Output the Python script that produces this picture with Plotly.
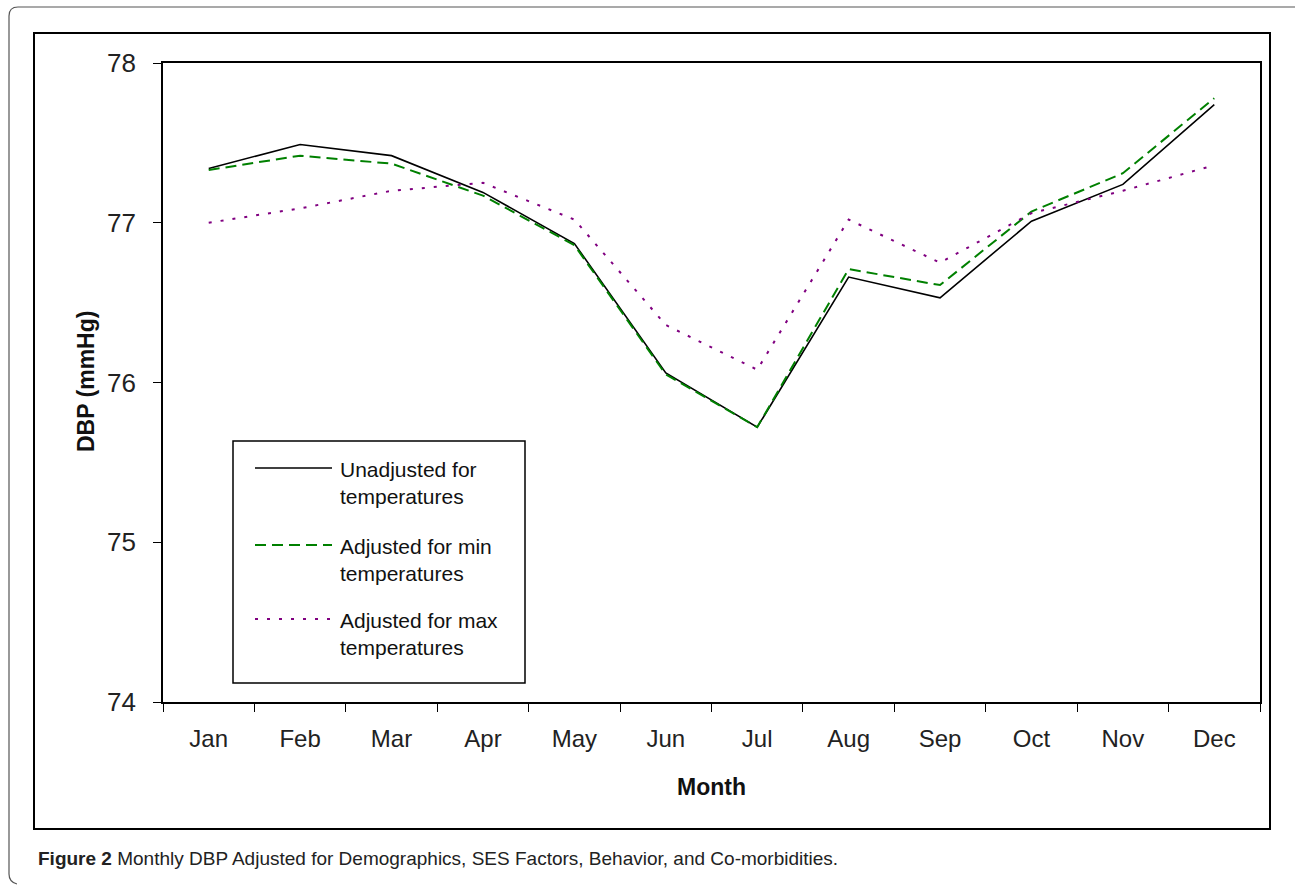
import plotly.graph_objects as go

# ---------------- data ----------------
months = ["Jan", "Feb", "Mar", "Apr", "May", "Jun", "Jul", "Aug", "Sep", "Oct", "Nov", "Dec"]
unadjusted = [77.34, 77.49, 77.42, 77.19, 76.87, 76.06, 75.72, 76.66, 76.53, 77.01, 77.24, 77.74]
adj_min = [77.33, 77.42, 77.37, 77.17, 76.86, 76.05, 75.72, 76.71, 76.61, 77.07, 77.31, 77.78]
adj_max = [77.00, 77.09, 77.20, 77.25, 77.02, 76.36, 76.08, 77.02, 76.75, 77.06, 77.20, 77.36]
y_ticks = [74, 75, 76, 77, 78]
series_names = ["Unadjusted for<br>temperatures",
                "Adjusted for min<br>temperatures",
                "Adjusted for max<br>temperatures"]

W, H = 1295, 886
ML, MR, MT, MB = 163, 35, 63, 184
PW, PH = W - ML - MR, H - MT - MB


def X(px):
    return (px - ML) / PW


def Y(py):
    return (H - MB - py) / PH


FONT = "Liberation Sans, Arial, sans-serif"
BLACK = "#000000"
GREEN = "#008000"
PURPLE = "#800080"

fig = go.Figure()
fig.add_trace(go.Scatter(x=months, y=unadjusted, mode="lines", name="Unadjusted",
                         line=dict(color=BLACK, width=1.6)))
fig.add_trace(go.Scatter(x=months, y=adj_min, mode="lines", name="Adjusted min",
                         line=dict(color=GREEN, width=2, dash="11px,6px")))
fig.add_trace(go.Scatter(x=months, y=adj_max, mode="lines", name="Adjusted max",
                         line=dict(color=PURPLE, width=2, dash="3px,9px")))

shapes = []
annotations = []

# page frame (rounded, grey)
shapes.append(dict(type="path", xref="paper", yref="paper",
                   path=f"M {X(1295)},{Y(7)} L {X(18)},{Y(7)} Q {X(9)},{Y(7)} {X(9)},{Y(16)} "
                        f"L {X(9)},{Y(874)} Q {X(9)},{Y(882)} {X(17)},{Y(884)}",
                   line=dict(color="#555555", width=1.2), layer="below"))
# chart box
shapes.append(dict(type="rect", xref="paper", yref="paper",
                   x0=X(34), x1=X(1270), y0=Y(829), y1=Y(33),
                   line=dict(color=BLACK, width=2), layer="below"))

# legend box
shapes.append(dict(type="rect", xref="paper", yref="paper",
                   x0=X(233), x1=X(525), y0=Y(683), y1=Y(441),
                   line=dict(color=BLACK, width=1.5), fillcolor="white"))
leg_y = [468, 545, 619]
leg_styles = [(BLACK, "solid", 1.6), (GREEN, "11px,6px", 2), (PURPLE, "3px,9px", 2)]
for yy, (col, dash, wd), name in zip(leg_y, leg_styles, series_names):
    shapes.append(dict(type="line", xref="paper", yref="paper",
                       x0=X(255), x1=X(332), y0=Y(yy), y1=Y(yy),
                       line=dict(color=col, width=wd, dash=dash)))
    annotations.append(dict(xref="paper", yref="paper", x=X(338), y=Y(yy - 12),
                            xanchor="left", yanchor="top", align="left",
                            text=name, showarrow=False,
                            font=dict(family=FONT, size=21, color="#111111")))

# axis titles
annotations.append(dict(xref="paper", yref="paper", x=X(86), y=Y(382),
                        text="<b>DBP (mmHg)</b>", textangle=-90, showarrow=False,
                        xanchor="center", yanchor="middle",
                        font=dict(family=FONT, size=23, color="#111111")))
annotations.append(dict(xref="paper", yref="paper", x=X(711), y=Y(787),
                        text="<b>Month</b>", showarrow=False,
                        xanchor="center", yanchor="middle",
                        font=dict(family=FONT, size=23, color="#111111")))
# caption
annotations.append(dict(xref="paper", yref="paper", x=X(36), y=Y(858),
                        text="<b>Figure 2</b> Monthly DBP Adjusted for Demographics, SES Factors, Behavior, and Co-morbidities.",
                        showarrow=False, xanchor="left", yanchor="middle",
                        font=dict(family=FONT, size=19, color="#222222")))

fig.update_layout(
    width=W, height=H,
    margin=dict(l=ML, r=MR, t=MT, b=MB, pad=0),
    paper_bgcolor="white", plot_bgcolor="white",
    showlegend=False,
    shapes=shapes, annotations=annotations,
    xaxis=dict(type="category", categoryorder="array", categoryarray=months,
               range=[-0.5, 11.5], tickson="boundaries",
               showline=True, mirror=True, linecolor=BLACK, linewidth=1.6,
               ticks="outside", ticklen=8, tickcolor=BLACK, tickwidth=1.3,
               ticklabelstandoff=14,
               showgrid=False, zeroline=False,
               tickfont=dict(family=FONT, size=24, color="#222222")),
    yaxis=dict(range=[74, 78], tickvals=y_ticks, ticktext=[str(v) for v in y_ticks],
               showline=True, mirror=True, linecolor=BLACK, linewidth=1.8,
               ticks="outside", ticklen=8, tickcolor=BLACK, tickwidth=1.3,
               ticklabelstandoff=12,
               showgrid=False, zeroline=False,
               tickfont=dict(family=FONT, size=26, color="#222222")),
)

fig.write_html("out.html", config={"displayModeBar": False},
               post_script="document.body.style.margin='0';document.body.style.overflow='hidden';")
